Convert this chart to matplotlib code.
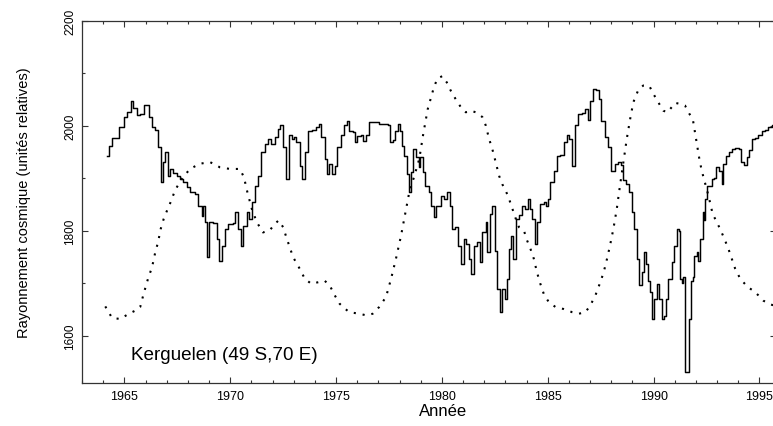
import matplotlib
matplotlib.use("Agg")
import matplotlib.pyplot as plt
from matplotlib.ticker import MultipleLocator

plt.rcParams['font.family'] = ['Liberation Sans', 'DejaVu Sans']

# Cosmic ray counts (Kerguelen neutron monitor), step data
cr_years = [1964.18, 1964.28, 1964.42, 1964.65, 1964.73, 1964.97, 1965.13, 1965.33, 1965.41, 1965.60,
            1965.74, 1965.91, 1966.02, 1966.15, 1966.31, 1966.45, 1966.59, 1966.73, 1966.81, 1966.93,
            1967.06, 1967.16, 1967.30, 1967.47, 1967.63, 1967.79, 1967.95, 1968.10, 1968.34, 1968.49,
            1968.65, 1968.73, 1968.81, 1968.92, 1968.98, 1969.19, 1969.36, 1969.49, 1969.60, 1969.76,
            1969.91, 1970.13, 1970.23, 1970.38, 1970.50, 1970.61, 1970.78, 1970.89, 1971.02, 1971.17,
            1971.33, 1971.47, 1971.63, 1971.79, 1971.93, 1972.10, 1972.26, 1972.35, 1972.50, 1972.65,
            1972.76, 1972.92, 1973.01, 1973.12, 1973.28, 1973.39, 1973.52, 1973.68, 1973.87, 1974.07,
            1974.18, 1974.30, 1974.46, 1974.59, 1974.69, 1974.79, 1974.94, 1975.06, 1975.22, 1975.38,
            1975.53, 1975.63, 1975.80, 1975.91, 1976.01, 1976.18, 1976.29, 1976.42, 1976.57, 1976.79,
            1977.04, 1977.27, 1977.44, 1977.55, 1977.67, 1977.80, 1977.91, 1978.02, 1978.12, 1978.22,
            1978.35, 1978.43, 1978.54, 1978.65, 1978.78, 1978.90, 1978.97, 1979.09, 1979.22, 1979.38,
            1979.49, 1979.64, 1979.71, 1979.86, 1979.97, 1980.10, 1980.26, 1980.38, 1980.49, 1980.62,
            1980.76, 1980.89, 1981.04, 1981.16, 1981.28, 1981.39, 1981.52, 1981.67, 1981.80, 1981.91,
            1982.07, 1982.15, 1982.27, 1982.38, 1982.49, 1982.59, 1982.74, 1982.85, 1982.97, 1983.06,
            1983.17, 1983.28, 1983.38, 1983.49, 1983.64, 1983.80, 1983.93, 1984.07, 1984.18, 1984.26,
            1984.38, 1984.49, 1984.65, 1984.81, 1984.92, 1985.01, 1985.12, 1985.28, 1985.44, 1985.59,
            1985.75, 1985.91, 1986.02, 1986.15, 1986.27, 1986.43, 1986.62, 1986.78, 1986.90, 1987.01,
            1987.12, 1987.28, 1987.41, 1987.53, 1987.69, 1987.85, 1988.00, 1988.18, 1988.33, 1988.44,
            1988.54, 1988.70, 1988.85, 1988.97, 1989.08, 1989.20, 1989.33, 1989.44, 1989.55, 1989.64,
            1989.75, 1989.83, 1989.91, 1990.02, 1990.15, 1990.26, 1990.38, 1990.49, 1990.59, 1990.70,
            1990.86, 1990.96, 1991.09, 1991.18, 1991.25, 1991.32, 1991.40, 1991.48, 1991.63, 1991.67,
            1991.75, 1991.86, 1991.93, 1992.03, 1992.11, 1992.19, 1992.32, 1992.38, 1992.43, 1992.51,
            1992.64, 1992.75, 1992.85, 1992.95, 1993.07, 1993.22, 1993.29, 1993.42, 1993.58, 1993.69,
            1993.85, 1994.01, 1994.12, 1994.27, 1994.40, 1994.51, 1994.64, 1994.79, 1994.95, 1995.11,
            1995.26, 1995.39, 1995.58, 1995.70]
cr_values = [1943, 1962, 1977, 1977, 1998, 2017, 2026, 2048, 2035, 2020,
             2022, 2039, 2039, 2017, 1998, 1992, 1959, 1893, 1931, 1950,
             1905, 1918, 1910, 1905, 1898, 1893, 1883, 1874, 1870, 1848,
             1829, 1848, 1817, 1750, 1817, 1815, 1785, 1743, 1772, 1804,
             1813, 1815, 1836, 1804, 1772, 1810, 1836, 1822, 1855, 1886,
             1905, 1950, 1966, 1975, 1966, 1978, 1994, 2001, 1959, 1899,
             1982, 1976, 1978, 1969, 1924, 1899, 1950, 1991, 1993, 1998,
             2004, 1978, 1937, 1909, 1928, 1909, 1924, 1959, 1982, 2001,
             2010, 1991, 1988, 1969, 1980, 1983, 1972, 1983, 2007, 2007,
             2004, 2004, 2001, 1969, 1974, 1991, 2004, 1990, 1962, 1943,
             1909, 1874, 1912, 1956, 1940, 1921, 1940, 1912, 1886, 1874,
             1848, 1826, 1848, 1848, 1867, 1860, 1874, 1848, 1804, 1807,
             1772, 1737, 1785, 1775, 1747, 1718, 1772, 1778, 1740, 1797,
             1817, 1760, 1832, 1848, 1762, 1689, 1645, 1689, 1670, 1709,
             1766, 1791, 1747, 1823, 1830, 1848, 1842, 1861, 1842, 1823,
             1775, 1817, 1851, 1855, 1848, 1861, 1893, 1915, 1943, 1945,
             1969, 1982, 1975, 1924, 2001, 2023, 2024, 2032, 2011, 2048,
             2070, 2068, 2051, 2010, 1978, 1959, 1915, 1928, 1931, 1925,
             1896, 1889, 1874, 1836, 1804, 1747, 1696, 1721, 1759, 1737,
             1705, 1683, 1632, 1670, 1699, 1670, 1632, 1637, 1670, 1709,
             1740, 1772, 1804, 1800, 1709, 1700, 1712, 1531, 1531, 1632,
             1705, 1712, 1753, 1759, 1743, 1785, 1836, 1820, 1861, 1886,
             1886, 1899, 1900, 1921, 1914, 1889, 1928, 1943, 1950, 1956,
             1958, 1956, 1931, 1926, 1940, 1955, 1975, 1977, 1983, 1991,
             1993, 1998, 2002, 2002]

# Solar activity curve (scaled), dotted
ss_years = [1964.10, 1964.42, 1964.81, 1965.21, 1965.52, 1965.75, 1965.91, 1966.12, 1966.31, 1966.46,
            1966.59, 1966.72, 1966.86, 1967.02, 1967.22, 1967.39, 1967.71, 1968.10, 1968.57, 1969.05,
            1969.52, 1969.99, 1970.46, 1970.65, 1970.81, 1971.02, 1971.25, 1971.55, 1971.87, 1972.10,
            1972.29, 1972.50, 1972.65, 1972.81, 1972.97, 1973.28, 1973.52, 1973.83, 1974.15, 1974.46,
            1974.70, 1974.94, 1975.17, 1975.44, 1975.63, 1976.10, 1976.42, 1976.73, 1977.04, 1977.36,
            1977.60, 1977.83, 1978.07, 1978.31, 1978.46, 1978.70, 1978.93, 1979.12, 1979.33, 1979.61,
            1979.78, 1980.02, 1980.23, 1980.42, 1980.65, 1980.89, 1981.13, 1981.36, 1981.60, 1981.91,
            1982.07, 1982.23, 1982.38, 1982.54, 1982.70, 1982.85, 1983.01, 1983.17, 1983.33, 1983.49,
            1983.64, 1983.87, 1984.02, 1984.18, 1984.34, 1984.49, 1984.65, 1984.81, 1985.05, 1985.36,
            1985.75, 1986.15, 1986.46, 1986.78, 1987.01, 1987.25, 1987.48, 1987.64, 1987.80, 1987.94,
            1988.10, 1988.26, 1988.41, 1988.57, 1988.73, 1988.89, 1989.04, 1989.28, 1989.51, 1989.80,
            1989.99, 1990.22, 1990.46, 1990.65, 1990.86, 1991.01, 1991.25, 1991.48, 1991.69, 1991.85,
            1991.94, 1992.04, 1992.16, 1992.27, 1992.48, 1992.59, 1992.79, 1992.98, 1993.17, 1993.37,
            1993.53, 1993.69, 1993.85, 1994.05, 1994.24, 1994.47, 1994.71, 1994.95, 1995.18, 1995.50,
            1995.75]
ss_values = [1656, 1634, 1632, 1642, 1648, 1655, 1680, 1709, 1731, 1759,
             1778, 1804, 1823, 1839, 1858, 1877, 1899, 1918, 1928, 1931,
             1921, 1918, 1918, 1902, 1874, 1842, 1817, 1797, 1801, 1813,
             1820, 1807, 1788, 1769, 1750, 1728, 1709, 1699, 1702, 1705,
             1696, 1677, 1661, 1651, 1645, 1642, 1639, 1642, 1655, 1674,
             1709, 1747, 1791, 1842, 1874, 1905, 1937, 1985, 2032, 2072,
             2090, 2095, 2083, 2067, 2051, 2036, 2026, 2029, 2026, 2017,
             2001, 1975, 1956, 1931, 1905, 1889, 1877, 1861, 1842, 1823,
             1807, 1801, 1782, 1766, 1747, 1721, 1699, 1680, 1664, 1655,
             1651, 1645, 1642, 1645, 1658, 1677, 1702, 1721, 1747, 1772,
             1804, 1842, 1886, 1931, 1975, 2013, 2045, 2069, 2077, 2076,
             2061, 2045, 2029, 2026, 2036, 2044, 2042, 2039, 2023, 2013,
             1991, 1966, 1937, 1915, 1883, 1867, 1832, 1817, 1801, 1782,
             1766, 1747, 1728, 1712, 1702, 1692, 1686, 1677, 1667, 1660,
             1657]

x_ticks = [1965, 1970, 1975, 1980, 1985, 1990, 1995]
y_ticks = [1600, 1800, 2000, 2200]

W, H = 773, 427
fig = plt.figure(figsize=(W / 100, H / 100), dpi=100)
ax = fig.add_axes([82 / W, (H - 384) / H, (776 - 82) / W, (384 - 22) / H])

ax.plot(cr_years, cr_values, drawstyle='steps-post', color='black', lw=1.05)
ax.plot(ss_years, ss_values, color='black', lw=1.5, linestyle=(0, (1.0, 3.3)),
        dash_capstyle='butt')

ax.set_xlim(1963.0, 1995.78)
ax.set_ylim(1510, 2200)
ax.set_xticks(x_ticks)
ax.set_yticks(y_ticks)
ax.xaxis.set_minor_locator(MultipleLocator(1))
ax.yaxis.set_minor_locator(MultipleLocator(100))
ax.tick_params(which='both', direction='in', top=True, right=True, width=0.8, color='#333333')
ax.tick_params(which='major', length=4.5)
ax.tick_params(which='minor', length=2.5)
ax.tick_params(axis='x', labelsize=9, pad=5)
ax.tick_params(axis='y', labelsize=8.5, pad=4)
for lab in ax.get_yticklabels():
    lab.set_rotation(90)
    lab.set_va('center')
for s in ax.spines.values():
    s.set_linewidth(0.9)
    s.set_color('#333333')

ax.set_xlabel('Année', fontsize=12, labelpad=1)
ax.xaxis.set_label_coords((443 - 82) / (776 - 82), -0.055, transform=ax.transAxes)
ax.set_ylabel('Rayonnement cosmique (unités relatives)', fontsize=10.5, labelpad=24)
ax.text(1965.3, 1564, 'Kerguelen (49 S,70 E)', fontsize=13.6, va='center', ha='left')

fig.savefig('out.png', dpi=100)
